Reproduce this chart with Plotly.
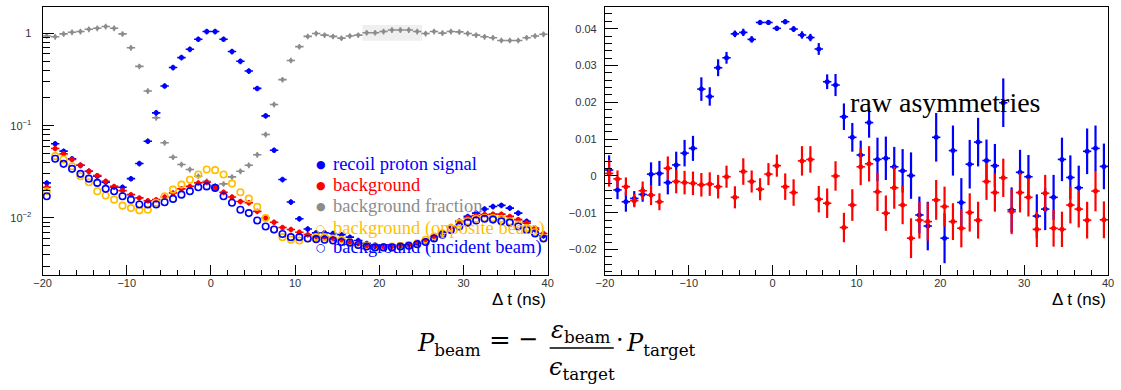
import plotly.graph_objects as go

# ---------------- data ----------------
t_bins = [-19.5, -18.5, -17.5, -16.5, -15.5, -14.5, -13.5, -12.5, -11.5, -10.5,
          -9.5, -8.5, -7.5, -6.5, -5.5, -4.5, -3.5, -2.5, -1.5, -0.5,
          0.5, 1.5, 2.5, 3.5, 4.5, 5.5, 6.5, 7.5, 8.5, 9.5,
          10.5, 11.5, 12.5, 13.5, 14.5, 15.5, 16.5, 17.5, 18.5, 19.5,
          20.5, 21.5, 22.5, 23.5, 24.5, 25.5, 26.5, 27.5, 28.5, 29.5,
          30.5, 31.5, 32.5, 33.5, 34.5, 35.5, 36.5, 37.5, 38.5, 39.5]

bg_fraction = [0.94, 0.92, 0.99, 1.03, 1.05, 1.11, 1.14, 1.19, 1.14, 0.99,
               0.70, 0.44, 0.238, 0.122, 0.0653, 0.0456, 0.0380, 0.0335, 0.0283, 0.0250,
               0.0224, 0.0234, 0.0279, 0.0321, 0.0373, 0.0484, 0.0804, 0.170, 0.316, 0.51,
               0.72, 0.93, 1.0, 0.96, 0.93, 0.89, 0.94, 0.96, 1.02, 1.02,
               1.05, 1.09, 1.09, 1.09, 1.05, 1.0, 1.05, 1.01, 1.05, 1.04,
               1.0, 0.96, 0.92, 0.90, 0.84, 0.84, 0.84, 0.90, 0.94, 0.98]

signal = [0.024, 0.0637, 0.053, 0.0438, 0.0373, 0.0321, 0.0283, 0.0244, 0.0217, 0.0215,
          0.0267, 0.0389, 0.068, 0.138, 0.270, 0.427, 0.548, 0.675, 0.867, 1.05,
          1.05, 0.867, 0.637, 0.50, 0.392, 0.254, 0.128, 0.0543, 0.0261, 0.0149,
          0.0098, 0.0076, 0.0069, 0.0069, 0.0068, 0.0066, 0.0062, 0.0057, 0.0053, 0.0051,
          0.0050, 0.0050, 0.0050, 0.0051, 0.0053, 0.0056, 0.0062, 0.0069, 0.0080, 0.0092,
          0.0104, 0.0113, 0.0125, 0.0133, 0.0137, 0.0128, 0.0113, 0.0092, 0.0075, 0.0064]

background = [0.0215, 0.0567, 0.0496, 0.043, 0.0373, 0.0321, 0.0288, 0.025, 0.022, 0.0198,
              0.0179, 0.0165, 0.0154, 0.0158, 0.0169, 0.0187, 0.0207, 0.022, 0.024, 0.0244,
              0.0212, 0.019, 0.0169, 0.0151, 0.0146, 0.0118, 0.0100, 0.0090, 0.0079, 0.0075,
              0.0070, 0.0066, 0.0063, 0.0062, 0.0060, 0.0058, 0.0054, 0.0053, 0.0050, 0.0049,
              0.0049, 0.0049, 0.0050, 0.0051, 0.0053, 0.0057, 0.0063, 0.0070, 0.0081, 0.0092,
              0.0100, 0.0106, 0.0109, 0.0110, 0.0110, 0.0104, 0.0096, 0.0088, 0.0078, 0.0068]

bg_opposite = [0.0195, 0.0468, 0.043, 0.0364, 0.0283, 0.0244, 0.0195, 0.0175, 0.0158, 0.0136,
               0.0128, 0.0121, 0.0123, 0.0146, 0.0172, 0.0203, 0.023, 0.026, 0.0296, 0.0335,
               0.033, 0.0296, 0.0236, 0.019, 0.0162, 0.0132, 0.0100, 0.0075, 0.0062, 0.0058,
               0.0057, 0.0060, 0.0062, 0.0062, 0.0060, 0.0058, 0.0055, 0.0051, 0.0050, 0.0049,
               0.0048, 0.0049, 0.0050, 0.0051, 0.0053, 0.0058, 0.0063, 0.0068, 0.0078, 0.0088,
               0.0092, 0.0098, 0.0100, 0.0100, 0.0098, 0.0092, 0.0085, 0.0078, 0.0070, 0.0061]

bg_incident = [0.0172, 0.0438, 0.0386, 0.0341, 0.0301, 0.0267, 0.024, 0.0207, 0.0195, 0.0172,
               0.0158, 0.014, 0.014, 0.014, 0.0148, 0.0161, 0.0179, 0.0195, 0.0215, 0.022,
               0.0212, 0.0172, 0.0146, 0.0123, 0.0113, 0.0094, 0.0081, 0.0075, 0.0067, 0.0062,
               0.0062, 0.0060, 0.0059, 0.0058, 0.0057, 0.0055, 0.0054, 0.0051, 0.0049, 0.0048,
               0.0048, 0.0048, 0.0049, 0.0050, 0.0052, 0.0055, 0.0060, 0.0066, 0.0074, 0.0081,
               0.0089, 0.0094, 0.0098, 0.0096, 0.0092, 0.0089, 0.0081, 0.0074, 0.0068, 0.0060]

asym_signal = [0.0016, -0.0038, -0.0070, -0.0061, -0.0050, 0.0005, 0.0007, -0.0018, 0.0030, 0.0062,
               0.0075, 0.0236, 0.0216, 0.0294, 0.0321, 0.0386, 0.0390, 0.0371, 0.0417, 0.0417,
               0.0401, 0.0419, 0.0399, 0.0383, 0.0376, 0.0345, 0.0256, 0.0247, 0.0161, 0.0105,
               0.0057, 0.0145, 0.0045, 0.0048, 0.0025, 0.0014, 0.0001, -0.0106, -0.0136, 0.0105,
               -0.0169, 0.0069, -0.0072, 0.0032, 0.0092, 0.0042, 0.0028, 0.0199, -0.0092, 0.0010,
               -0.0002, -0.0109, -0.0090, -0.0058, 0.0045, -0.0004, -0.0032, 0.0067, 0.0075, 0.0026]
asym_signal_err = [0.0040, 0.0025, 0.0027, 0.0020, 0.0020, 0.0032, 0.0034, 0.0032, 0.0036, 0.0036,
                   0.0034, 0.0032, 0.0025, 0.0023, 0.0016, 0.0009, 0.0010, 0.0009, 0.0007, 0.0007,
                   0.0007, 0.0007, 0.0008, 0.0010, 0.0010, 0.0016, 0.0020, 0.0030, 0.0036, 0.0039,
                   0.0039, 0.0041, 0.0059, 0.0059, 0.0054, 0.0059, 0.0063, 0.0050, 0.0066, 0.0066,
                   0.0068, 0.0068, 0.0066, 0.0066, 0.0066, 0.0057, 0.0059, 0.0066, 0.0061, 0.0061,
                   0.0059, 0.0059, 0.0057, 0.0061, 0.0059, 0.0060, 0.0060, 0.0062, 0.0062, 0.0062]

asym_background = [0.0007, -0.0008, -0.0029, -0.0067, -0.0040, -0.0052, -0.0070, 0.0021, -0.0015, -0.0018,
                   -0.0020, -0.0024, -0.0022, -0.0029, -0.0002, -0.0058, 0.0012, -0.0015, -0.0036, 0.0005,
                   0.0028, -0.0029, -0.0045, 0.0041, 0.0045, -0.0063, -0.0074, 0.0000, -0.0140, -0.0079,
                   0.0025, 0.0033, -0.0043, -0.0101, -0.0032, -0.0079, -0.0169, -0.0120, -0.0124, -0.0065,
                   -0.0083, -0.0124, -0.0142, -0.0099, -0.0120, -0.0015, -0.0045, -0.0005, -0.0097, -0.0045,
                   -0.0058, -0.0145, -0.0047, -0.0142, -0.0145, -0.0079, -0.0090, -0.0120, -0.0041, -0.0119]
asym_background_err = [0.0036, 0.0023, 0.0025, 0.0018, 0.0025, 0.0027, 0.0023, 0.0032, 0.0032, 0.0032,
                       0.0032, 0.0032, 0.0032, 0.0032, 0.0030, 0.0030, 0.0036, 0.0030, 0.0030, 0.0030,
                       0.0030, 0.0036, 0.0036, 0.0040, 0.0036, 0.0036, 0.0040, 0.0040, 0.0040, 0.0043,
                       0.0050, 0.0048, 0.0052, 0.0048, 0.0057, 0.0052, 0.0054, 0.0050, 0.0052, 0.0054,
                       0.0054, 0.0050, 0.0052, 0.0052, 0.0050, 0.0050, 0.0052, 0.0052, 0.0061, 0.0054,
                       0.0052, 0.0048, 0.0050, 0.0050, 0.0048, 0.0050, 0.0050, 0.0050, 0.0055, 0.0050]

legend_labels = ["recoil proton signal", "background", "background fraction",
                 "background (opposite beam)", "background (incident beam)"]

log_tick_vals = [0.01, 0.1, 1]
log_tick_text = ["10<sup>−2</sup>", "10<sup>−1</sup>", "1"]

# ---------------- styling ----------------
W, H = 1121, 390
BLUE, RED, GRAY, ORANGE = "#0000ff", "#ff0000", "#8c8c8c", "#ffbf00"
TICKFONT = dict(family="Liberation Sans, Arial", size=11, color="#333333")


def px(x):
    return x / W


def py(y):
    return 1 - y / H


fig = go.Figure()

half_bin = dict(type="constant", value=0.5, thickness=1.6, width=0)


def left_trace(vals, color, filled, size, name):
    if filled:
        marker = dict(color=color, size=size, symbol="circle", line=dict(width=0))
        ex = dict(half_bin, color=color)
        ey = dict(type="percent", value=7, thickness=1.6, width=0, color=color)
    else:
        marker = dict(color=color, size=size, symbol="circle-open",
                      line=dict(color=color, width=1.6))
        ex = None
        ey = None
    fig.add_trace(go.Scatter(x=t_bins, y=vals, mode="markers", marker=marker,
                             error_x=ex, error_y=ey, name=name, showlegend=False,
                             xaxis="x", yaxis="y"))


left_trace(bg_fraction, GRAY, True, 4, legend_labels[2])
left_trace(signal, BLUE, True, 5, legend_labels[0])
left_trace(background, RED, True, 5, legend_labels[1])
left_trace(bg_opposite, ORANGE, False, 6.5, legend_labels[3])
left_trace(bg_incident, BLUE, False, 6.5, legend_labels[4])

for vals, errs, color in [(asym_signal, asym_signal_err, BLUE),
                          (asym_background, asym_background_err, RED)]:
    fig.add_trace(go.Scatter(
        x=t_bins, y=vals, mode="markers", showlegend=False,
        marker=dict(color=color, size=5),
        error_x=dict(half_bin, color=color),
        error_y=dict(type="data", array=errs, thickness=2.2, width=0, color=color),
        xaxis="x2", yaxis="y2"))

# log minor tick positions (2..9 in every decade)
log_minor = [k * 10.0 ** d for d in (-3, -2, -1, 0) for k in range(2, 10)]

ydom = [py(275), py(7)]
xaxis_common = dict(range=[-20, 40], dtick=10, tick0=0, ticks="inside", ticklen=10,
                    tickwidth=1, tickcolor="black", showline=True, mirror=True,
                    linecolor="black", linewidth=1, showgrid=False, zeroline=False,
                    tickfont=TICKFONT, ticklabelstandoff=-2,
                    minor=dict(ticks="inside", dtick=2, ticklen=5, tickwidth=1,
                               tickcolor="black", showgrid=False))

fig.update_layout(
    width=W, height=H, margin=dict(l=0, r=0, t=0, b=0),
    paper_bgcolor="white", plot_bgcolor="white",
    xaxis=dict(xaxis_common, domain=[px(34), px(546)], anchor="y"),
    yaxis=dict(type="log", range=[-2.618, 0.287], domain=ydom, anchor="x",
               tickmode="array", tickvals=log_tick_vals, ticktext=log_tick_text,
               ticks="inside", ticklen=11,
               tickwidth=1, tickcolor="black", showline=True, mirror=True,
               linecolor="black", linewidth=1, showgrid=False, zeroline=False,
               tickfont=TICKFONT, ticklabelstandoff=8,
               minor=dict(ticks="inside", tickmode="array", tickvals=log_minor,
                          ticklen=7, tickwidth=1, tickcolor="black", showgrid=False)),
    xaxis2=dict(xaxis_common, domain=[px(604), px(1114)], anchor="y2"),
    yaxis2=dict(range=[-0.0269, 0.0459], domain=ydom, anchor="x2",
                dtick=0.01, tick0=0, ticks="inside", ticklen=13,
                tickwidth=1, tickcolor="black", showline=True, mirror=True,
                linecolor="black", linewidth=1, showgrid=False, zeroline=False,
                tickfont=TICKFONT, ticklabelstandoff=5,
                minor=dict(ticks="inside", dtick=0.002, ticklen=7, tickwidth=1,
                           tickcolor="black", showgrid=False)),
)

# light grey box in left pad
fig.add_shape(type="rect", xref="x", yref="y domain", x0=18.0, x1=25.1,
              y0=0.874, y1=0.933, fillcolor="#efefef", line=dict(width=0), layer="below")

ann = []


def text_at(x, y, text, size, color="black", family="Liberation Serif",
            xanchor="center", yanchor="middle"):
    ann.append(dict(x=px(x), y=py(y), xref="paper", yref="paper", text=text,
                    showarrow=False, xanchor=xanchor, yanchor=yanchor,
                    font=dict(family=family, size=size, color=color)))


# legend
legend_rows = [(164, BLUE, "●"), (185, RED, "●"), (206, GRAY, "●"),
               (228, ORANGE, "○"), (248, BLUE, "○")]
for (yy, col, sym), lab in zip(legend_rows, legend_labels):
    text_at(316, yy, sym, 11, col, "DejaVu Sans")
    text_at(326, yy, lab, 18.5, col, "Liberation Serif", xanchor="left")

text_at(949, 103, "raw asymmetries", 28)

for xr in (546, 1114):
    text_at(xr, 299, "Δ t (ns)", 17, family="Liberation Sans, Arial", xanchor="right")

# formula
FF = "DejaVu Serif"
FS = 24
text_at(412, 344, "<i>P</i><sub>beam</sub>", FS, family=FF, xanchor="left")
text_at(498, 340, "=", 26, family=FF)
text_at(526, 339, "−", 24, family="DejaVu Sans")
text_at(580, 331, "<i>ε</i><sub>beam</sub>", FS, family=FF)
text_at(581, 368, "<i>ϵ</i><sub>target</sub>", FS, family=FF)
text_at(619, 340, "·", FS, family=FF)
text_at(623, 344, "<i>P</i><sub>target</sub>", FS, family=FF, xanchor="left")

fig.add_shape(type="line", xref="paper", yref="paper", x0=px(548), x1=px(613),
              y0=py(348), y1=py(348), line=dict(color="black", width=1.5))

fig.update_layout(annotations=ann)

fig.write_html("out.html", config={"displayModeBar": False},
               post_script="document.body.style.margin='0';")
